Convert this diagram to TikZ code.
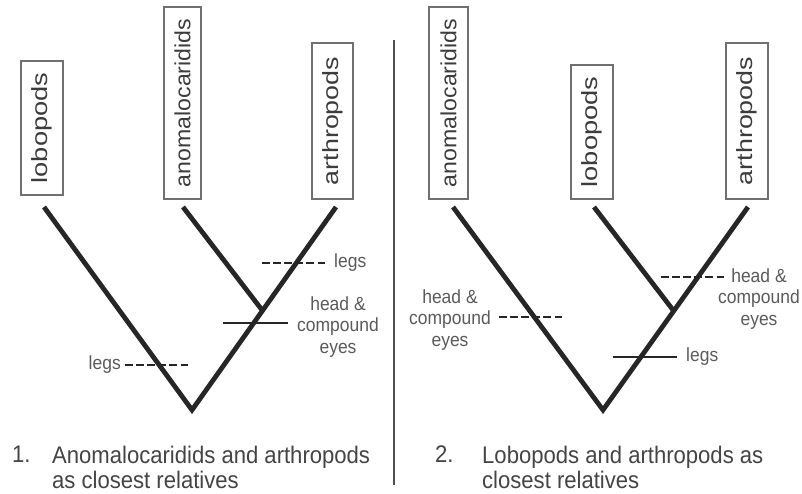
\documentclass[tikz,border=0pt]{standalone}
\usepackage{fontspec}
\usepackage{graphicx}
\setmainfont{Liberation Sans}
\newfontfamily\narrowsans[FakeStretch=0.92]{Liberation Sans}

\definecolor{treeink}{HTML}{262626}
\definecolor{boxgray}{HTML}{707070}
\definecolor{taxontext}{HTML}{3C3C3C}
\definecolor{notegray}{HTML}{5A5A5A}
\definecolor{captext}{HTML}{444444}
\definecolor{rulegray}{HTML}{505050}

\tikzset{
  taxon/.style={draw=boxgray, line width=1.3pt, rotate=90, inner sep=0pt,
    text=taxontext, font=\fontsize{22}{22}\selectfont},
  branch/.style={draw=treeink, line width=4.8pt, line join=miter, line cap=butt},
  trait/.style={draw=treeink, line width=2.7pt},
  traitdash/.style={trait, dash pattern=on 7.5pt off 3.6pt},
  note/.style={font=\narrowsans\fontsize{19}{21.5}\selectfont, text=notegray,
    inner sep=0pt, align=center},
  caption/.style={font=\narrowsans\fontsize{24}{25}\selectfont, text=captext,
    inner sep=0pt, align=left, anchor=north west},
}

\begin{document}
\begin{tikzpicture}[x=1pt, y=-1pt]
\useasboundingbox (0,0) rectangle (802,494);

% ---------------- tree 1 ----------------
\node[taxon, minimum width=134pt, minimum height=42pt] (lobA) at (42,128)
  {\scalebox{1.24}[1]{lobopods}};
\node[taxon, minimum width=192pt, minimum height=37pt] (anoA) at (182.5,103)
  {\scalebox{1.05}[1]{anomalocaridids}};
\node[taxon, minimum width=156pt, minimum height=41pt] (artA) at (332.5,121)
  {\scalebox{1.22}[1]{arthropods}};

\coordinate (tipA1) at (44,207);
\coordinate (tipA2) at (183,207);
\coordinate (tipA3) at (336,207);
\coordinate (forkA) at (262,310);
\coordinate (rootA) at (192,410);

\draw[branch] (tipA1) -- (rootA) -- (tipA3);
\draw[branch] (tipA2) -- (forkA);

% character markers
\coordinate (legsA1s) at (262,263);
\coordinate (legsA1e) at (325,263);
\draw[traitdash] (legsA1s) -- (legsA1e);
\node[note, anchor=west] (legsA1) at (334,263) {legs};

\coordinate (headAs) at (223,323);
\coordinate (headAe) at (288,323);
\draw[trait] (headAs) -- (headAe);
\node[note] (headA) at (338,327) {head \&\\compound\\eyes};

\coordinate (legsA2s) at (125,365);
\coordinate (legsA2e) at (189,365);
\draw[traitdash] (legsA2s) -- (legsA2e);
\node[note, anchor=east] (legsA2) at (121,365) {legs};

% ---------------- divider ----------------
\coordinate (divtop) at (394,40);
\coordinate (divbot) at (394,485);
\draw[rulegray, line width=2pt] (divtop) -- (divbot);

% ---------------- tree 2 ----------------
\node[taxon, minimum width=192pt, minimum height=39pt] (anoB) at (448.5,103)
  {\scalebox{1.05}[1]{anomalocaridids}};
\node[taxon, minimum width=134pt, minimum height=42pt] (lobB) at (592,132)
  {\scalebox{1.24}[1]{lobopods}};
\node[taxon, minimum width=156pt, minimum height=42pt] (artB) at (747,121)
  {\scalebox{1.22}[1]{arthropods}};

\coordinate (tipB1) at (453,207);
\coordinate (tipB2) at (594,207);
\coordinate (tipB3) at (748,207);
\coordinate (forkB) at (673,310);
\coordinate (rootB) at (603,410);

\draw[branch] (tipB1) -- (rootB) -- (tipB3);
\draw[branch] (tipB2) -- (forkB);

\coordinate (headB1s) at (661,277);
\coordinate (headB1e) at (725,277);
\draw[traitdash] (headB1s) -- (headB1e);
\node[note] (headB1) at (759,299) {head \&\\compound\\eyes};

\coordinate (headB2s) at (499,317);
\coordinate (headB2e) at (563,317);
\draw[traitdash] (headB2s) -- (headB2e);
\node[note] (headB2) at (450,320) {head \&\\compound\\eyes};

\coordinate (legsBs) at (613,357);
\coordinate (legsBe) at (677,357);
\draw[trait] (legsBs) -- (legsBe);
\node[note, anchor=west] (legsB) at (686,357) {legs};

% ---------------- captions ----------------
\node[caption] (numA) at (12,445.5) {1.};
\node[caption] (capA) at (52,445.5) {Anomalocaridids and arthropods\\as closest relatives};
\node[caption] (numB) at (435,445.5) {2.};
\node[caption] (capB) at (482,445.5) {Lobopods and arthropods as\\closest relatives};
\end{tikzpicture}
\end{document}
